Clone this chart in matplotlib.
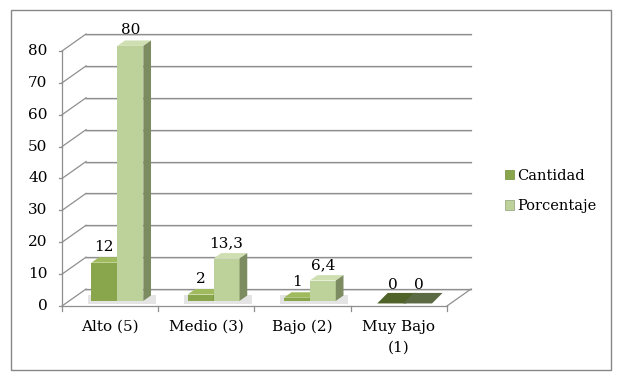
import matplotlib
matplotlib.use("Agg")
import matplotlib.pyplot as plt
from matplotlib.patches import Polygon, Rectangle, Patch

categories = ["Alto (5)", "Medio (3)", "Bajo (2)", "Muy Bajo\n(1)"]
cantidad = [12, 2, 1, 0]
porcentaje = [80, 13.3, 6.4, 0]
cantidad_labels = ["12", "2", "1", "0"]
porcentaje_labels = ["80", "13,3", "6,4", "0"]
y_ticks = [0, 10, 20, 30, 40, 50, 60, 70, 80]

W, H = 621, 382
DX, DY = 0.25, 5.33          # depth of the back wall in data units
F0, F1 = 0.30, 0.62          # bar depth (fraction of wall depth)
BW = 0.27                    # bar width
GRID = "#8f8f8f"

plt.rcParams["font.family"] = ["DejaVu Serif"]

fig = plt.figure(figsize=(W / 100, H / 100), dpi=100)
fig.patches.append(Rectangle((11 / W, 1 - 370 / H), 600 / W, 360 / H, transform=fig.transFigure,
                             fill=False, edgecolor="#878787", lw=1.0))

ax = fig.add_axes([62 / W, 1 - 306 / H, 409 / W, 272 / H])
ax.set_xlim(-0.5, 3.5 + DX)
ax.set_ylim(0, 80 + DY)
ax.axis("off")

# walls / gridlines
for v in y_ticks:
    ax.plot([-0.5 + DX, 3.5 + DX], [v + DY - 0.35, v + DY - 0.35], color="#d4d4d4", lw=1.2,
            clip_on=False, zorder=1)
    ax.plot([-0.5 + DX, 3.5 + DX], [v + DY, v + DY], color=GRID, lw=0.9, clip_on=False, zorder=1)
    ax.plot([-0.5, -0.5 + DX], [v, v + DY], color=GRID, lw=0.9, clip_on=False, zorder=1)
    ax.plot([-0.5 - 0.03, -0.5], [v, v], color=GRID, lw=0.9, clip_on=False, zorder=1)
    ax.text(-0.5 - 0.15, v, str(v), ha="right", va="center", fontsize=11, color="black")
ax.plot([-0.5, -0.5], [0, 80], color=GRID, lw=0.9, clip_on=False, zorder=1)
ax.plot([-0.5, 3.5], [0, 0], color=GRID, lw=0.9, clip_on=False, zorder=1)
ax.plot([3.5, 3.5 + DX], [0, DY], color=GRID, lw=0.9, clip_on=False, zorder=1)
for b in [-0.5, 0.5, 1.5, 2.5, 3.5]:
    ax.plot([b, b], [0, -1.6], color=GRID, lw=0.9, clip_on=False, zorder=1)

for i, c in enumerate(categories):
    ax.text(i, -4.3, c, ha="center", va="top", fontsize=11, linespacing=1.6)


def bar3d(x0, v, front, top, side, zero_col):
    x1 = x0 + BW
    a, b = F0, F1
    if v == 0:
        ax.add_patch(Polygon([(x0 + a * DX - 0.03, a * DY - 0.8), (x1 + a * DX, a * DY - 0.8),
                              (x1 + b * DX + 0.03, b * DY + 0.8), (x0 + b * DX, b * DY + 0.8)],
                             closed=True, facecolor=zero_col, edgecolor="none", zorder=3))
        return
    ax.add_patch(Polygon([(x0 + a * DX, a * DY), (x1 + a * DX, a * DY),
                          (x1 + a * DX, v + a * DY), (x0 + a * DX, v + a * DY)],
                         closed=True, facecolor=front, edgecolor="none", zorder=3))
    ax.add_patch(Polygon([(x0 + a * DX, v + a * DY), (x1 + a * DX, v + a * DY),
                          (x1 + b * DX, v + b * DY), (x0 + b * DX, v + b * DY)],
                         closed=True, facecolor=top, edgecolor="none", zorder=3))
    ax.add_patch(Polygon([(x1 + a * DX, a * DY), (x1 + b * DX, b * DY),
                          (x1 + b * DX, v + b * DY), (x1 + a * DX, v + a * DY)],
                         closed=True, facecolor=side, edgecolor="none", zorder=3))
    # soft floor shadow
    ax.add_patch(Polygon([(x0 + a * DX - 0.04, a * DY - 1.0), (x1 + b * DX + 0.05, a * DY - 1.0),
                          (x1 + b * DX + 0.05, b * DY), (x0 + a * DX - 0.04, b * DY)],
                         closed=True, facecolor="#e4e4e4", edgecolor="none", zorder=2))


for i in range(len(categories)):
    bar3d(i - BW, cantidad[i], "#8aa64c", "#9fbb5e", "#6d8a36", "#4f6228")
    bar3d(i, porcentaje[i], "#bdd19b", "#cfdfb2", "#7c8c60", "#5c6a44")
    for x0, v, lab in [(i - BW, cantidad[i], cantidad_labels[i]), (i, porcentaje[i], porcentaje_labels[i])]:
        ax.text(x0 + BW / 2 + F0 * DX, v + F1 * DY + 1.0, lab, ha="center", va="bottom", fontsize=11)

handles = [Patch(facecolor="#8aa64c", edgecolor="#6d8a36", lw=0.5),
           Patch(facecolor="#bdd19b", edgecolor="#8f9f76", lw=0.5)]
fig.legend(handles, ["Cantidad", "Porcentaje"], loc="center left",
           bbox_to_anchor=(492 / W, 1 - 191 / H), frameon=False, fontsize=10.5,
           handlelength=0.6, handleheight=0.6, handletextpad=0.25, labelspacing=1.1)

fig.savefig("out.png", dpi=100)
